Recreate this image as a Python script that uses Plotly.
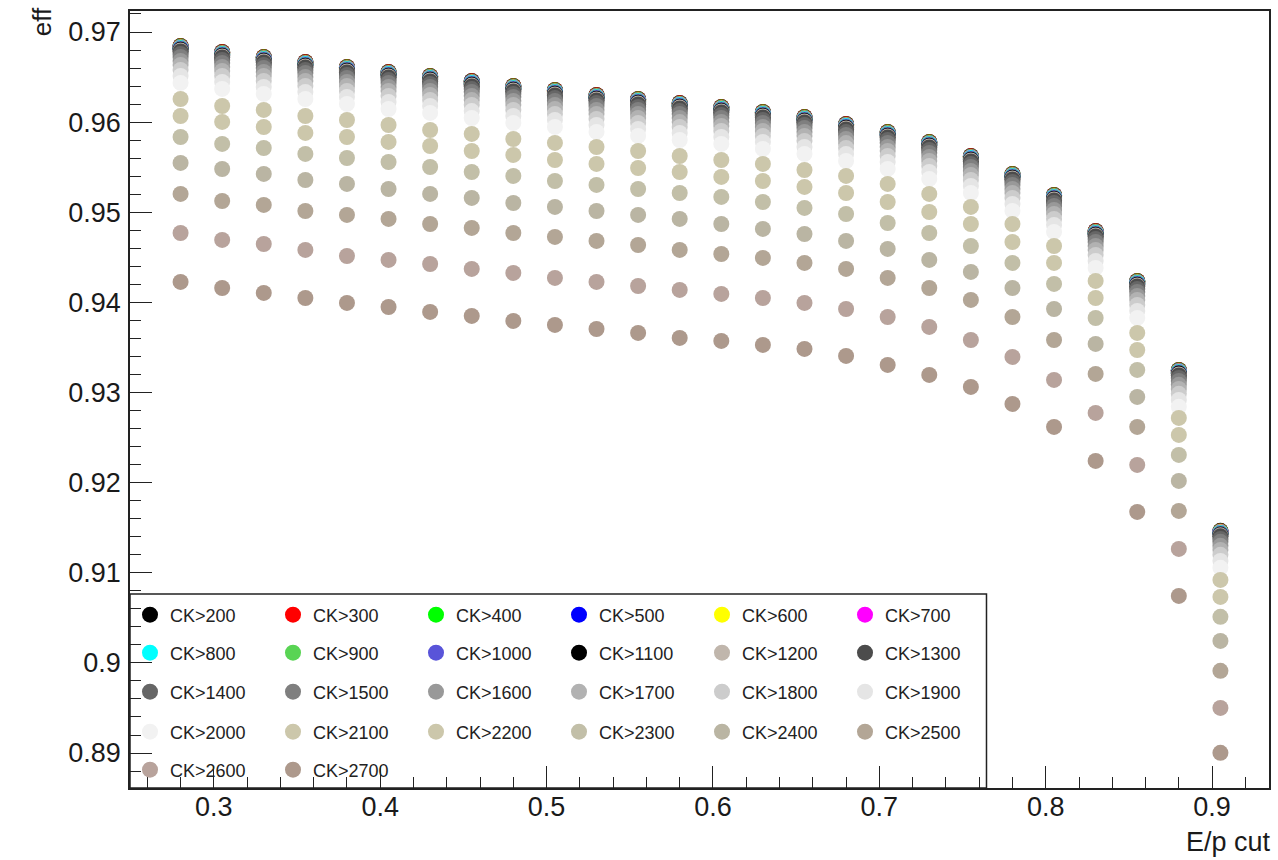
import plotly.graph_objects as go

# E/p cut values (x)
ep_cut = [0.28, 0.305, 0.33, 0.355, 0.38, 0.405, 0.43, 0.455, 0.48, 0.505, 0.53, 0.555, 0.58,
          0.605, 0.63, 0.655, 0.68, 0.705, 0.73, 0.755, 0.78, 0.805, 0.83, 0.855, 0.88, 0.905]

eff_ck200 = [0.96845, 0.96778, 0.96723, 0.96667, 0.96612, 0.96556, 0.96512, 0.96456, 0.96401, 0.96357, 0.96301, 0.96257, 0.96212, 0.96168, 0.96113, 0.96057, 0.95979, 0.95891, 0.95780, 0.95624, 0.95425, 0.95192, 0.94792, 0.94238, 0.93251, 0.91465]
eff_ck300 = [0.96842, 0.96775, 0.96720, 0.96664, 0.96609, 0.96553, 0.96509, 0.96453, 0.96398, 0.96354, 0.96298, 0.96254, 0.96209, 0.96165, 0.96110, 0.96054, 0.95976, 0.95888, 0.95777, 0.95621, 0.95422, 0.95189, 0.94789, 0.94235, 0.93248, 0.91462]
eff_ck400 = [0.96838, 0.96771, 0.96716, 0.96660, 0.96605, 0.96549, 0.96505, 0.96449, 0.96394, 0.96350, 0.96294, 0.96250, 0.96205, 0.96161, 0.96106, 0.96050, 0.95972, 0.95884, 0.95773, 0.95617, 0.95418, 0.95185, 0.94785, 0.94231, 0.93244, 0.91458]
eff_ck500 = [0.96834, 0.96767, 0.96712, 0.96656, 0.96601, 0.96545, 0.96501, 0.96445, 0.96390, 0.96346, 0.96290, 0.96246, 0.96201, 0.96157, 0.96102, 0.96046, 0.95968, 0.95880, 0.95769, 0.95613, 0.95414, 0.95181, 0.94781, 0.94227, 0.93240, 0.91454]
eff_ck600 = [0.96831, 0.96764, 0.96709, 0.96653, 0.96598, 0.96542, 0.96498, 0.96442, 0.96387, 0.96343, 0.96287, 0.96243, 0.96198, 0.96154, 0.96099, 0.96043, 0.95965, 0.95877, 0.95766, 0.95610, 0.95411, 0.95178, 0.94778, 0.94224, 0.93237, 0.91451]
eff_ck700 = [0.96826, 0.96759, 0.96704, 0.96648, 0.96593, 0.96537, 0.96493, 0.96437, 0.96382, 0.96338, 0.96282, 0.96238, 0.96193, 0.96149, 0.96094, 0.96038, 0.95960, 0.95872, 0.95761, 0.95605, 0.95406, 0.95173, 0.94773, 0.94219, 0.93232, 0.91446]
eff_ck800 = [0.96822, 0.96755, 0.96700, 0.96644, 0.96589, 0.96533, 0.96489, 0.96433, 0.96378, 0.96334, 0.96278, 0.96234, 0.96189, 0.96145, 0.96090, 0.96034, 0.95956, 0.95868, 0.95757, 0.95601, 0.95402, 0.95169, 0.94769, 0.94215, 0.93228, 0.91442]
eff_ck900 = [0.96816, 0.96749, 0.96694, 0.96638, 0.96583, 0.96527, 0.96483, 0.96427, 0.96372, 0.96328, 0.96272, 0.96228, 0.96183, 0.96139, 0.96084, 0.96028, 0.95950, 0.95862, 0.95751, 0.95595, 0.95396, 0.95163, 0.94763, 0.94209, 0.93222, 0.91436]
eff_ck1000 = [0.96811, 0.96744, 0.96689, 0.96633, 0.96578, 0.96522, 0.96478, 0.96422, 0.96367, 0.96323, 0.96267, 0.96223, 0.96178, 0.96134, 0.96079, 0.96023, 0.95945, 0.95857, 0.95746, 0.95590, 0.95391, 0.95158, 0.94758, 0.94204, 0.93217, 0.91431]
eff_ck1100 = [0.96804, 0.96737, 0.96682, 0.96626, 0.96571, 0.96515, 0.96471, 0.96415, 0.96360, 0.96316, 0.96260, 0.96216, 0.96171, 0.96127, 0.96072, 0.96016, 0.95938, 0.95850, 0.95739, 0.95583, 0.95384, 0.95151, 0.94751, 0.94197, 0.93210, 0.91424]
eff_ck1200 = [0.96795, 0.96728, 0.96673, 0.96617, 0.96562, 0.96506, 0.96462, 0.96406, 0.96351, 0.96307, 0.96251, 0.96207, 0.96162, 0.96118, 0.96063, 0.96007, 0.95929, 0.95841, 0.95730, 0.95574, 0.95375, 0.95142, 0.94742, 0.94188, 0.93201, 0.91415]
eff_ck1300 = [0.96784, 0.96717, 0.96662, 0.96606, 0.96551, 0.96495, 0.96451, 0.96395, 0.96340, 0.96296, 0.96240, 0.96196, 0.96151, 0.96107, 0.96052, 0.95996, 0.95918, 0.95830, 0.95719, 0.95563, 0.95364, 0.95131, 0.94731, 0.94177, 0.93190, 0.91404]
eff_ck1400 = [0.96756, 0.96689, 0.96634, 0.96578, 0.96523, 0.96467, 0.96423, 0.96367, 0.96312, 0.96268, 0.96212, 0.96168, 0.96123, 0.96079, 0.96024, 0.95968, 0.95890, 0.95802, 0.95691, 0.95535, 0.95336, 0.95103, 0.94703, 0.94149, 0.93162, 0.91376]
eff_ck1500 = [0.96723, 0.96656, 0.96601, 0.96545, 0.96490, 0.96434, 0.96390, 0.96334, 0.96279, 0.96235, 0.96179, 0.96135, 0.96090, 0.96046, 0.95991, 0.95935, 0.95857, 0.95769, 0.95658, 0.95502, 0.95303, 0.95070, 0.94670, 0.94116, 0.93129, 0.91343]
eff_ck1600 = [0.96679, 0.96612, 0.96557, 0.96501, 0.96446, 0.96390, 0.96346, 0.96290, 0.96235, 0.96191, 0.96135, 0.96091, 0.96046, 0.96002, 0.95947, 0.95891, 0.95813, 0.95725, 0.95614, 0.95458, 0.95259, 0.95026, 0.94626, 0.94072, 0.93085, 0.91299]
eff_ck1700 = [0.96634, 0.96567, 0.96512, 0.96456, 0.96401, 0.96345, 0.96301, 0.96245, 0.96190, 0.96146, 0.96090, 0.96046, 0.96001, 0.95957, 0.95902, 0.95846, 0.95768, 0.95680, 0.95569, 0.95413, 0.95214, 0.94981, 0.94581, 0.94027, 0.93040, 0.91254]
eff_ck1800 = [0.96579, 0.96512, 0.96457, 0.96401, 0.96346, 0.96290, 0.96246, 0.96190, 0.96135, 0.96091, 0.96035, 0.95991, 0.95946, 0.95902, 0.95847, 0.95791, 0.95713, 0.95625, 0.95514, 0.95358, 0.95159, 0.94926, 0.94526, 0.93972, 0.92985, 0.91199]
eff_ck1900 = [0.96512, 0.96445, 0.96390, 0.96334, 0.96279, 0.96223, 0.96179, 0.96123, 0.96068, 0.96024, 0.95968, 0.95924, 0.95879, 0.95835, 0.95780, 0.95724, 0.95646, 0.95558, 0.95447, 0.95291, 0.95092, 0.94859, 0.94459, 0.93905, 0.92918, 0.91132]
eff_ck2000 = [0.96435, 0.96368, 0.96313, 0.96257, 0.96202, 0.96146, 0.96102, 0.96046, 0.95991, 0.95947, 0.95891, 0.95847, 0.95802, 0.95758, 0.95703, 0.95647, 0.95569, 0.95481, 0.95370, 0.95214, 0.95015, 0.94782, 0.94382, 0.93828, 0.92841, 0.91055]
eff_ck2100 = [0.96257, 0.96179, 0.96135, 0.96068, 0.96024, 0.95968, 0.95913, 0.95869, 0.95813, 0.95769, 0.95724, 0.95680, 0.95624, 0.95580, 0.95536, 0.95469, 0.95403, 0.95314, 0.95203, 0.95059, 0.94870, 0.94626, 0.94238, 0.93661, 0.92718, 0.90921]
eff_ck2200 = [0.96068, 0.96002, 0.95946, 0.95880, 0.95835, 0.95780, 0.95735, 0.95680, 0.95636, 0.95580, 0.95536, 0.95491, 0.95447, 0.95392, 0.95347, 0.95281, 0.95214, 0.95114, 0.95003, 0.94870, 0.94670, 0.94438, 0.94049, 0.93472, 0.92530, 0.90732]
eff_ck2300 = [0.95835, 0.95758, 0.95713, 0.95647, 0.95602, 0.95558, 0.95502, 0.95447, 0.95403, 0.95347, 0.95303, 0.95258, 0.95214, 0.95170, 0.95114, 0.95048, 0.94981, 0.94881, 0.94770, 0.94626, 0.94438, 0.94205, 0.93827, 0.93251, 0.92308, 0.90511]
eff_ck2400 = [0.95547, 0.95480, 0.95425, 0.95358, 0.95314, 0.95258, 0.95203, 0.95159, 0.95103, 0.95059, 0.95014, 0.94970, 0.94926, 0.94870, 0.94815, 0.94759, 0.94682, 0.94593, 0.94471, 0.94338, 0.94160, 0.93927, 0.93539, 0.92951, 0.92019, 0.90244]
eff_ck2500 = [0.95203, 0.95125, 0.95081, 0.95014, 0.94970, 0.94926, 0.94870, 0.94826, 0.94770, 0.94726, 0.94682, 0.94637, 0.94582, 0.94537, 0.94493, 0.94438, 0.94371, 0.94271, 0.94160, 0.94027, 0.93838, 0.93583, 0.93206, 0.92618, 0.91686, 0.89912]
eff_ck2600 = [0.94770, 0.94693, 0.94648, 0.94582, 0.94515, 0.94471, 0.94426, 0.94371, 0.94327, 0.94271, 0.94227, 0.94182, 0.94138, 0.94094, 0.94049, 0.93994, 0.93927, 0.93838, 0.93728, 0.93583, 0.93395, 0.93140, 0.92774, 0.92197, 0.91265, 0.89501]
eff_ck2700 = [0.94227, 0.94160, 0.94105, 0.94049, 0.93994, 0.93949, 0.93894, 0.93850, 0.93794, 0.93750, 0.93705, 0.93661, 0.93606, 0.93572, 0.93528, 0.93484, 0.93406, 0.93306, 0.93195, 0.93062, 0.92873, 0.92618, 0.92241, 0.91675, 0.90743, 0.89002]

series_labels = ["CK>200", "CK>300", "CK>400", "CK>500", "CK>600", "CK>700",
                 "CK>800", "CK>900", "CK>1000", "CK>1100", "CK>1200", "CK>1300",
                 "CK>1400", "CK>1500", "CK>1600", "CK>1700", "CK>1800", "CK>1900",
                 "CK>2000", "CK>2100", "CK>2200", "CK>2300", "CK>2400", "CK>2500",
                 "CK>2600", "CK>2700"]

series_colors = ["#000000", "#ff0000", "#00ff00", "#0000ff", "#ffff00", "#ff00ff",
                 "#00ffff", "#59d454", "#5954d9", "#000000", "#c0b6ac", "#4c4c4c",
                 "#666666", "#7f7f7f", "#999999", "#b2b2b2", "#cccccc", "#e5e5e5",
                 "#f2f2f2", "#ccc7ab", "#ccc7ab", "#c2bfa8", "#bab5a3", "#b3a696",
                 "#b8a39c", "#ad998c"]

series_values = [eff_ck200, eff_ck300, eff_ck400, eff_ck500, eff_ck600, eff_ck700,
                 eff_ck800, eff_ck900, eff_ck1000, eff_ck1100, eff_ck1200, eff_ck1300,
                 eff_ck1400, eff_ck1500, eff_ck1600, eff_ck1700, eff_ck1800, eff_ck1900,
                 eff_ck2000, eff_ck2100, eff_ck2200, eff_ck2300, eff_ck2400, eff_ck2500,
                 eff_ck2600, eff_ck2700]

FONT = "Liberation Sans, Arial, Helvetica, sans-serif"
W, H = 1278, 860
ML, MR, MT, MB = 130, 7, 11, 72
PW, PH = W - ML - MR, H - MT - MB

fig = go.Figure()
legend_names = ["legend", "legend2", "legend3", "legend4", "legend5"]
for i, (lab, col, vals) in enumerate(zip(series_labels, series_colors, series_values)):
    fig.add_trace(go.Scatter(
        x=ep_cut, y=vals, mode="markers", name=lab,
        marker=dict(color=col, size=16, symbol="circle", line=dict(width=0)),
        legend=legend_names[i // 6],
    ))

def py2paper(py):
    return (H - MB - py) / PH

row_y = [615, 653, 692, 732, 770]
legend_common = dict(orientation="h", x=0.0, xanchor="left", yanchor="middle",
                     bgcolor="rgba(0,0,0,0)", borderwidth=0,
                     entrywidth=98, entrywidthmode="pixels", itemwidth=30,
                     font=dict(family=FONT, size=18, color="#222222"),
                     traceorder="normal")
layout_legends = {}
for k, name in enumerate(legend_names):
    layout_legends[name] = dict(legend_common, y=py2paper(row_y[k]))

fig.update_layout(
    width=W, height=H,
    margin=dict(l=ML, r=MR, t=MT, b=MB, pad=0),
    paper_bgcolor="white", plot_bgcolor="white",
    showlegend=True,
    font=dict(family=FONT, color="#111111"),
    **layout_legends,
)

fig.update_xaxes(
    range=[0.2496, 0.9342], showgrid=False, zeroline=False,
    showline=True, linecolor="#222222", linewidth=1.5, mirror=True,
    ticks="inside", ticklen=22, tickwidth=1.3, tickcolor="#222222",
    tick0=0.3, dtick=0.1, tickformat=".1f", ticklabelstandoff=-6,
    tickfont=dict(family=FONT, size=27, color="#1a1a1a"),
    minor=dict(ticks="inside", ticklen=11, tickwidth=1.3, tickcolor="#222222", dtick=0.02, tick0=0.3),
)
fig.update_yaxes(
    range=[0.88612, 0.97233], showgrid=False, zeroline=False,
    showline=True, linecolor="#222222", linewidth=1.5, mirror=True,
    ticks="inside", ticklen=22, tickwidth=1.3, tickcolor="#222222",
    tickvals=[0.89, 0.90, 0.91, 0.92, 0.93, 0.94, 0.95, 0.96, 0.97],
    ticktext=["0.89", "0.9", "0.91", "0.92", "0.93", "0.94", "0.95", "0.96", "0.97"],
    ticklabelstandoff=2,
    tickfont=dict(family=FONT, size=27, color="#1a1a1a"),
    minor=dict(ticks="inside", ticklen=11, tickwidth=1.3, tickcolor="#222222", dtick=0.002, tick0=0.89),
)

# legend frame box
fig.add_shape(type="rect", xref="paper", yref="paper",
              x0=0, x1=(988 - ML) / PW, y0=0, y1=py2paper(594),
              line=dict(color="#222222", width=1.5), fillcolor="rgba(0,0,0,0)", layer="above")

fig.add_annotation(text="eff", xref="paper", yref="paper",
                   x=(42 - ML) / PW, y=py2paper(22), showarrow=False, textangle=-90,
                   font=dict(family=FONT, size=26, color="#1a1a1a"),
                   xanchor="center", yanchor="middle")
fig.add_annotation(text="E/p cut", xref="paper", yref="paper",
                   x=(1275 - ML) / PW, y=py2paper(842), showarrow=False,
                   font=dict(family=FONT, size=27, color="#1a1a1a"),
                   xanchor="right", yanchor="middle")

fig.write_html("out.html", config={"displayModeBar": False},
               post_script="document.body.style.margin='0';document.body.style.padding='0';")
